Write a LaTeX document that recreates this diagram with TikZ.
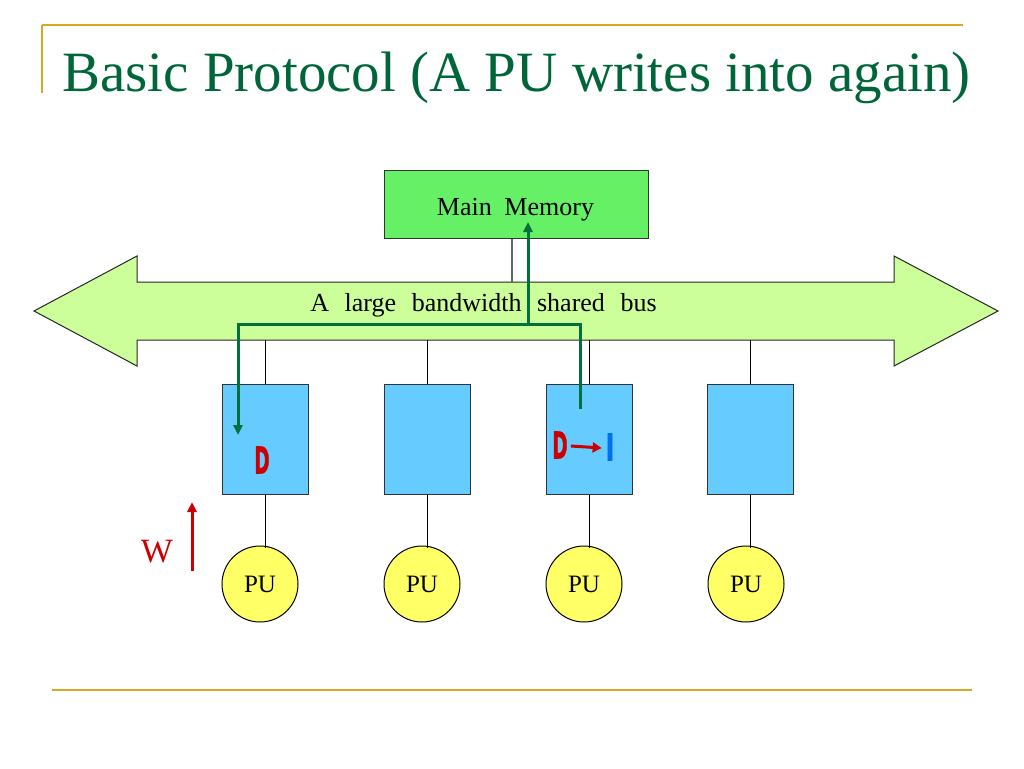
\documentclass[tikz,border=0pt]{standalone}
\usepackage{fontspec}
\setmainfont{Liberation Serif}
\newfontfamily\dfont[FakeBold=1.5]{DejaVu Sans}
\usetikzlibrary{arrows.meta,calc}
\definecolor{gold}{RGB}{214,168,40}
\definecolor{titlegreen}{RGB}{0,102,58}
\definecolor{memgreen}{RGB}{102,240,102}
\definecolor{busgreen}{RGB}{204,255,153}
\definecolor{cacheblue}{RGB}{102,204,255}
\definecolor{puyellow}{RGB}{255,255,102}
\definecolor{pathgreen}{RGB}{0,112,60}
\definecolor{dred}{RGB}{204,0,0}
\definecolor{iblue}{RGB}{0,112,240}
\tikzset{
  lbl/.style={font=\fontsize{26}{30}\selectfont, inner sep=0pt},
  mem/.style={draw=black!80, fill=memgreen, minimum width=264pt, minimum height=68pt, inner sep=0pt, line width=1pt},
  cachebox/.style={draw=black!80, fill=cacheblue, minimum width=86pt, minimum height=110pt, inner sep=0pt, line width=1pt},
  pu/.style={circle, draw=black, fill=puyellow, minimum size=76pt, inner sep=0pt, line width=1pt, font=\fontsize{25}{30}\selectfont},
  wire/.style={draw=black, line width=1pt},
  gpath/.style={draw=pathgreen, line width=3pt},
  gtip/.style={-{Triangle[length=10pt,width=9pt]}},
  dletter/.style={text=dred, inner sep=0pt},
}
\newcommand{\bigD}[2][0.5]{{\dfont\bfseries\fontsize{37}{40}\selectfont\scalebox{#1}[1]{#2}}}
\newcommand{\gap}{\hspace{15.6pt}}
\begin{document}
\begin{tikzpicture}[x=1pt,y=-1pt]
\useasboundingbox (0,0) rectangle (1024,768);
% frame lines
\draw[gold, line width=2pt] (42,25) -- (963,25);
\draw[gold, line width=2pt] (42,25) -- (42,93);
\draw[gold, line width=2pt] (52,690) -- (972,690);
% title
\node[anchor=base west, inner sep=0pt, text=titlegreen, font=\fontsize{57}{60}\selectfont] (title) at (62,91) {Basic Protocol (A PU writes into again)};
% memory
\node[mem] (mem) at (516,204) {};
\node[lbl, anchor=base] (memtext) at (515.5,215) {Main\hspace{12.6pt}Memory};
% bus arrow
\draw[fill=busgreen, draw=black!85, line width=1pt]
  (34,311) -- (137,256) -- (137,282) -- (894,282) -- (894,256) -- (998,311)
  -- (894,366) -- (894,340) -- (137,340) -- (137,366) -- cycle;
\node[lbl, anchor=base] (bus) at (483.5,311) {A\gap large\gap bandwidth\gap shared\gap bus};
\coordinate (bustop) at (512,282);
\coordinate (busbot) at (0,340);
\draw[draw=black!60, line width=1.2pt] (mem.south -| bustop) -- (bustop);
% caches
\node[cachebox] (c1) at (265,439) {};
\node[cachebox] (c2) at (427,439) {};
\node[cachebox] (c3) at (589,439) {};
\node[cachebox] (c4) at (750.5,439) {};
% PUs
\node[pu] (p1) at (260,584) {PU};
\node[pu] (p2) at (422,584) {PU};
\node[pu] (p3) at (584,584) {PU};
\node[pu] (p4) at (746,584) {PU};
\foreach \i in {1,2,3,4}{
  \draw[wire] (c\i.north) -- (c\i.north |- busbot);
  \draw[wire] (c\i.south) -- ($(c\i.south |- p\i.north)+(0,2)$);
}
% green path
\coordinate (gs) at (580,409);
\coordinate (gr) at (580,324);
\coordinate (gl) at (238,324);
\coordinate (ge) at (238,435);
\coordinate (gm) at (528,324);
\coordinate (gt) at (528,222);
\draw[gpath, gtip, line join=miter] (gs) -- (gr) -- (gl) -- (ge);
\draw[gpath, gtip] (gm) -- (gt);
% letters
\node[dletter] (d1) at (262,460) {\bigD{D}};
\node[dletter] (d3) at (560,445) {\bigD{D}};
\node[text=iblue, inner sep=0pt] (i3) at (610,447) {\bigD[0.6]{I}};
\draw[draw=dred, line width=3pt, -{Triangle[length=9pt,width=10pt]}] ($(d3.east)+(3,1)$) -- ($(i3.west)+(-4,1)$);
% W
\node[text=dred, anchor=base, inner sep=0pt, font=\fontsize{34}{40}\selectfont] (w) at (157,562) {W};
\coordinate (wa) at (192,571);
\coordinate (wb) at (192,502);
\draw[draw=dred, line width=3pt, -{Triangle[length=10pt,width=9pt]}] (wa) -- (wb);
\end{tikzpicture}
\end{document}
